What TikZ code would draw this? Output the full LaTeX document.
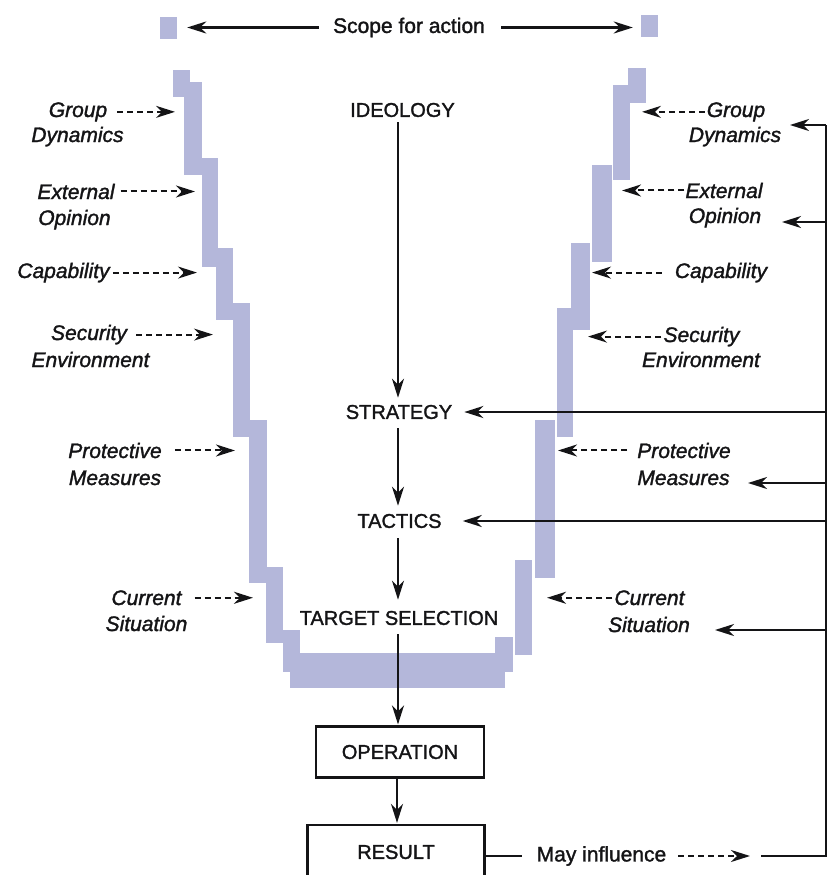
\documentclass[tikz,border=0pt]{standalone}
\usepackage{fontspec}
\setmainfont{Liberation Sans}
\usetikzlibrary{arrows.meta}
\definecolor{stair}{RGB}{180,183,218}
\definecolor{ink}{RGB}{20,20,22}
\newcommand{\heavier}{\addfontfeature{FakeBold=1.5}}
\begin{document}
\begin{tikzpicture}[x=1pt,y=-1pt,
  tipS/.style={-{Stealth[length=19pt,width=12pt,inset=6pt]}},
  ln/.style={line width=2.2pt,draw=ink},
  arr/.style={ln,tipS},
  darr/.style={line width=2pt,draw=ink,dash pattern=on 6pt off 4pt,tipS},
  lbl/.style={font=\fontsize{21}{25}\selectfont\itshape\heavier,inner sep=0pt,anchor=base,text=ink},
  capn/.style={font=\fontsize{20}{24}\selectfont\heavier,inner sep=0pt,text=ink},
  plain/.style={font=\fontsize{21}{25}\selectfont\heavier,inner sep=0pt,text=ink},
  boxn/.style={capn,draw=ink,line width=2.2pt},
  sq/.style={fill=stair,inner sep=0pt,minimum width=17pt,minimum height=22pt}
]
\useasboundingbox (0,0) rectangle (828,875);
% ---- staircase walls
\foreach \a/\b/\c/\d in {173/70/190/97, 184/82/202/175, 202/158/218/267, 216/248/233/320,
  233/303/250/437, 249/420/267/583, 266/567/283/643, 283/630/300/672, 290/653/505/688,
  628/68/646/103, 613/85/630/180, 592/165/612/262, 571/243/590/330, 557/308/573/437,
  535/420/555/578, 515/560/532/655, 495/637/513/672}
  \fill[stair] (\a,\b) rectangle (\c,\d);
% ---- scope for action
\node[sq] (sqL) at (168.5,28) {};
\node[sq] (sqR) at (649.5,26) {};
\node[plain] (scope) at (409,27.5) {Scope for action};
\draw[arr,shorten <=14pt,shorten >=10pt] (scope.west) -- (scope.west -| sqL.east);
\draw[arr,shorten <=16pt,shorten >=8pt] (scope.east) -- (scope.east -| sqR.west);
% ---- main chain
\node[capn] (ideo) at (402.5,110) {IDEOLOGY};
\node[capn] (strat) at (399,412) {STRATEGY};
\node[capn] (tact) at (399.5,521) {TACTICS};
\node[capn] (targ) at (399,618) {TARGET SELECTION};
\node[boxn,minimum width=168pt,minimum height=51pt] (oper) at (400,752) {OPERATION};
\node[boxn,minimum width=177pt,minimum height=54pt] (res) at (396,852) {RESULT};
\draw[arr,shorten <=5pt,shorten >=7pt] (ideo.south -| 398,0) -- (strat.north -| 398,0);
\draw[arr,shorten <=9pt,shorten >=8pt] (strat.south -| 398,0) -- (tact.north -| 398,0);
\draw[arr,shorten <=10pt,shorten >=11pt] (tact.south -| 398,0) -- (targ.north -| 398,0);
\draw[arr,shorten <=9pt,shorten >=1pt] (targ.south -| 398,0) -- (oper.north -| 398,0);
\draw[arr,shorten <=0pt,shorten >=1pt] (oper.south -| 397,0) -- (res.north -| 397,0);
% ---- left labels
\node[lbl] (gdL1) at (78,117) {Group};
\node[lbl] (gdL2) at (77.5,142) {Dynamics};
\node[lbl] (eoL1) at (76,199) {External};
\node[lbl] (eoL2) at (74.5,225) {Opinion};
\node[lbl] (caL1) at (63.5,278) {Capability};
\node[lbl] (seL1) at (89,340) {Security};
\node[lbl] (seL2) at (90.5,367) {Environment};
\node[lbl] (pmL1) at (115,458) {Protective};
\node[lbl] (pmL2) at (115,485) {Measures};
\node[lbl] (csL1) at (146.5,605) {Current};
\node[lbl] (csL2) at (146.5,631) {Situation};
\coordinate (tgdL) at (175,0);
\coordinate (teoL) at (195,0);
\coordinate (tcaL) at (197,0);
\coordinate (tseL) at (213,0);
\coordinate (tpmL) at (235,0);
\coordinate (tcsL) at (253,0);
\draw[darr,shorten <=10pt] (gdL1.east) -- (gdL1.east -| tgdL);
\draw[darr,shorten <=6pt] (eoL1.east) -- (eoL1.east -| teoL);
\draw[darr,shorten <=3pt] (caL1.east) -- (caL1.east -| tcaL);
\draw[darr,shorten <=9pt] (seL1.east) -- (seL1.east -| tseL);
\draw[darr,shorten <=13pt] (pmL1.east) -- (pmL1.east -| tpmL);
\draw[darr,shorten <=13pt] (csL1.east) -- (csL1.east -| tcsL);
% ---- right labels
\node[lbl] (gdR1) at (736,117) {Group};
\node[lbl] (gdR2) at (735,142) {Dynamics};
\node[lbl] (eoR1) at (724,198) {External};
\node[lbl] (eoR2) at (725,223) {Opinion};
\node[lbl] (caR1) at (721,278) {Capability};
\node[lbl] (seR1) at (701.5,342) {Security};
\node[lbl] (seR2) at (701,367) {Environment};
\node[lbl] (pmR1) at (684,458) {Protective};
\node[lbl] (pmR2) at (683.5,485) {Measures};
\node[lbl] (csR1) at (649.5,605) {Current};
\node[lbl] (csR2) at (649,632) {Situation};
\coordinate (tgdR) at (642,0);
\coordinate (teoR) at (622,0);
\coordinate (tcaR) at (592,0);
\coordinate (tseR) at (588,0);
\coordinate (tpmR) at (558,0);
\coordinate (tcsR) at (547,0);
\draw[darr,shorten <=2pt] (gdR1.west) -- (gdR1.west -| tgdR);
\draw[darr,shorten <=1pt] (eoR1.west) -- (eoR1.west -| teoR);
\draw[darr,shorten <=13pt] (caR1.west) -- (caR1.west -| tcaR);
\draw[darr,shorten <=2pt] (seR1.west) -- (seR1.west -| tseR);
\draw[darr,shorten <=10pt] (pmR1.west) -- (pmR1.west -| tpmR);
\draw[darr,shorten <=2pt] (csR1.west) -- (csR1.west -| tcsR);
% ---- feedback rail
\coordinate (railT) at (826,125);
\coordinate (railB) at (826,856);
\coordinate (inGD) at (790,125);
\coordinate (inEO) at (782,222);
\coordinate (inPM) at (748,483);
\coordinate (inCS) at (715,630);
\node[plain] (may) at (601.5,856) {May influence};
\coordinate (mayEnd) at (761,856);
\draw[ln,shorten >=15pt] (res.east |- may.west) -- (may.west);
\draw[darr,shorten <=12pt,shorten >=11pt] (may.east) -- (mayEnd);
\draw[ln] (mayEnd) -- (railB) -- (railT);
\draw[arr] (inGD -| railT) -- (inGD);
\draw[arr] (inEO -| railT) -- (inEO);
\draw[arr,shorten >=12pt] (strat.east -| railT) -- (strat.east);
\draw[arr] (inPM -| railT) -- (inPM);
\draw[arr,shorten >=21pt] (tact.east -| railT) -- (tact.east);
\draw[arr] (inCS -| railT) -- (inCS);
\end{tikzpicture}
\end{document}
